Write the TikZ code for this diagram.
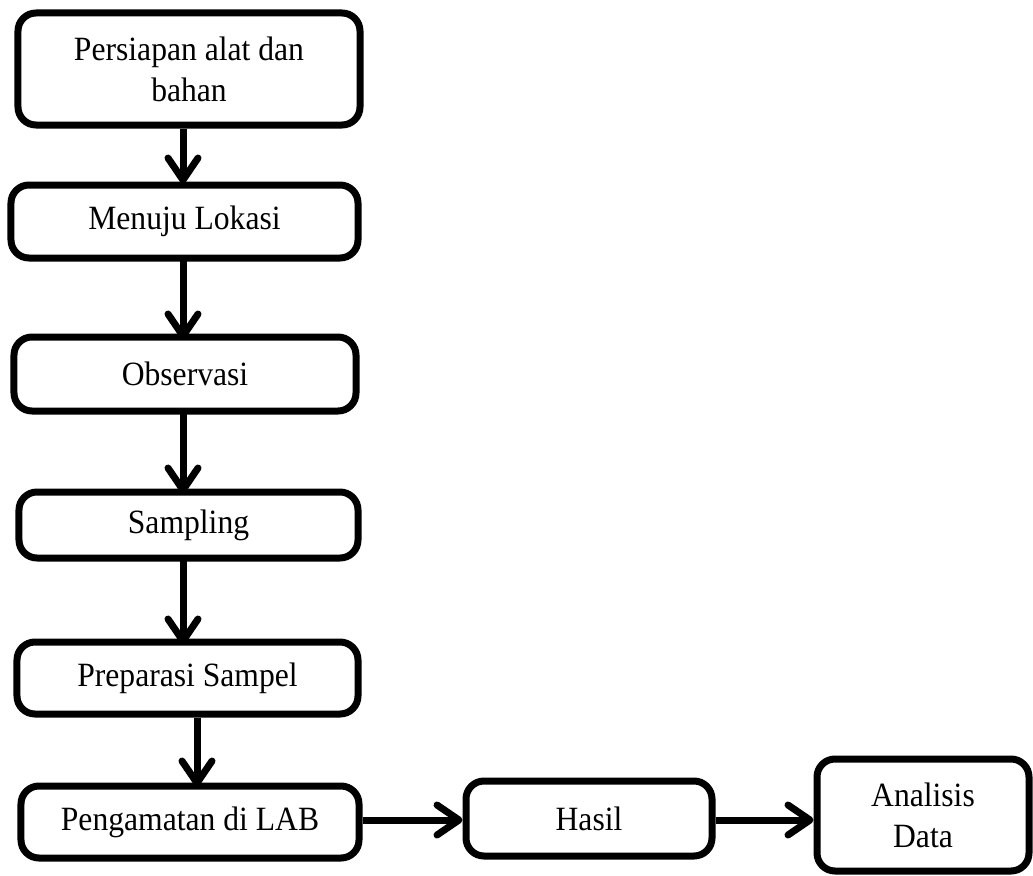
\documentclass[tikz,border=0pt]{standalone}
\usepackage{fontspec}
\setmainfont{Liberation Serif}[FakeStretch=0.93]
\usetikzlibrary{arrows.meta}
\begin{document}
\begin{tikzpicture}[x=1bp,y=-1bp,
  box/.style={draw=black, line width=7bp, rounded corners=18bp, inner sep=0pt,
    align=center, font=\fontsize{34bp}{41bp}\selectfont},
  arr/.style={line width=7bp, -{Straight Barb[length=22bp,width=30bp,round]}}]
\useasboundingbox (0,0) rectangle (1033,876);
\node[box, minimum width=342bp, minimum height=112bp] (b1) at (189,69) {Persiapan alat dan\\bahan};
\node[box, minimum width=347bp, minimum height=73bp] (b2) at (184.5,221.5) {Menuju Lokasi};
\node[box, minimum width=342bp, minimum height=74bp] (b3) at (185,374) {Observasi};
\node[box, minimum width=339bp, minimum height=66bp] (b4) at (188.5,525) {Sampling};
\node[box, minimum width=341bp, minimum height=72bp] (b5) at (187.5,678) {Preparasi Sampel};
\node[box, minimum width=338bp, minimum height=72bp] (b6) at (190,822) {Pengamatan di LAB};
\node[box, minimum width=246bp, minimum height=75bp] (b7) at (589,818.5) {Hasil};
\node[box, minimum width=212bp, minimum height=112bp] (b8) at (923,815) {Analisis\\Data};
\coordinate (ax) at (183,0);
\coordinate (bx) at (197,0);
\coordinate (hy) at (0,820);
\draw[arr] (b1.south -| ax) -- ([yshift=-2bp]b2.north -| ax);
\draw[arr] ([yshift=2bp]b2.south -| ax) -- ([yshift=-6bp]b3.north -| ax);
\draw[arr] ([yshift=6bp]b3.south -| ax) -- ([yshift=-5bp]b4.north -| ax);
\draw[arr] ([yshift=6bp]b4.south -| ax) -- ([yshift=-6bp]b5.north -| ax);
\draw[arr] (b5.south -| bx) -- ([yshift=-4bp]b6.north -| bx);
\draw[arr] (b6.east |- hy) -- (b7.west |- hy);
\draw[arr] (b7.east |- hy) -- (b8.west |- hy);
\end{tikzpicture}
\end{document}
